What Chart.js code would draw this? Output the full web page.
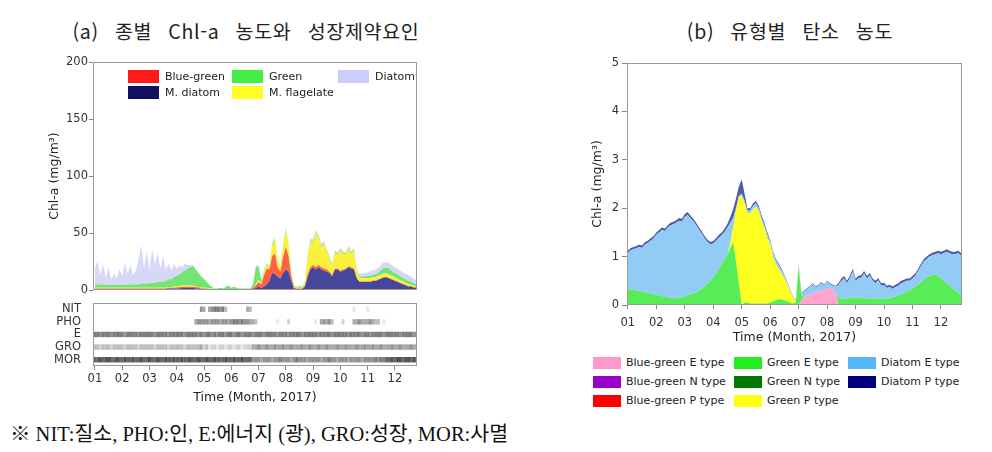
<!DOCTYPE html>
<html lang="ko">
<head>
<meta charset="utf-8">
<title>종별 Chl-a 농도 / 유형별 탄소 농도</title>
<script src="https://cdn.jsdelivr.net/npm/chart.js@4.4.1/dist/chart.umd.min.js"></script>
<style>
  body { margin:0; width:992px; height:452px; background:#fff; position:relative; overflow:hidden;
         font-family:"DejaVu Sans",sans-serif; color:#222; }
  .pane { position:absolute; }
  .pane canvas { display:block; }
  .title { position:absolute; top:16px; font-family:"Noto Sans CJK KR",sans-serif; font-size:19.5px;
           color:#222; white-space:pre; word-spacing:10px; letter-spacing:0.7px; text-align:center; }
  .note { position:absolute; left:10px; top:417px; font-family:"Liberation Serif","Noto Sans CJK KR",serif;
          font-size:20.5px; white-space:pre; color:#111; }
  .legend { position:absolute; display:grid; font-size:11px; color:#222; }
  .legend .item { display:flex; align-items:center; white-space:nowrap; }
  .legend .sw { display:inline-block; }
  #legA { left:128px; top:68px; grid-template-columns:104px 106px auto; grid-auto-rows:16px; }
  #legA .sw { width:31px; height:13px; margin-right:6px; }
  #legB { left:593px; top:353px; grid-template-columns:141px 114px auto; grid-auto-rows:19px; }
  #legB .sw { width:28px; height:12px; margin-right:5px; }
</style>
</head>
<body>
<div class="title" style="left:0;width:492px">(a) 종별 Chl-a 농도와 성장제약요인</div>
<div class="title" style="left:590px;width:400px">(b) 유형별 탄소 농도</div>

<div class="pane" style="left:0;top:40px"><canvas id="chartA" width="430" height="258"></canvas></div>
<div class="pane" style="left:0;top:296px"><canvas id="chartF" width="430" height="112"></canvas></div>
<div class="pane" style="left:580px;top:40px"><canvas id="chartB" width="400" height="305"></canvas></div>
<div class="legend" id="legA"></div>
<div class="legend" id="legB"></div>
<div class="note">※ NIT:질소, PHO:인, E:에너지 (광), GRO:성장, MOR:사멸</div>

<script>
// sampling: every 0.1 month from 01 (Jan) to late Dec
const sampleStart = 1.0, sampleStep = 0.1, sampleCount = 119;
const timeAxis = Array.from({ length: sampleCount }, (_, i) => +(sampleStart + i * sampleStep).toFixed(1));

const monthTicks = [1, 2, 3, 4, 5, 6, 7, 8, 9, 10, 11, 12];
const monthLabels = ["01", "02", "03", "04", "05", "06", "07", "08", "09", "10", "11", "12"];
const chlTicksA = [0, 50, 100, 150, 200];
const chlTicksB = [0, 1, 2, 3, 4, 5];
const factorNames = ["NIT", "PHO", "E", "GRO", "MOR"];

// (a) species Chl-a (mg/m3)
const mDiatom = [
  1,1,1,1,1,1,1,1,1,1, 1,1,1,1,1,1,1,1,1,1, 1,1,1,1,1,1,1,1.5,1.5,1.5,
  1.5,1.5,2,2,2,2,2,1.5,1.5,1, 1,1,.5,.5,.5,.5,.5,.5,.5,.5, .5,.5,.5,.5,.5,.5,.5,.5,1,2,
  3,2,3,5,8,15,14,12,10,15, 18,16,8,1,1,1,1,3,12,18, 20,18,20,18,17,16,15,12,18,18,
  16,17,18,20,19,18,10,7,7,7, 7,7,8,8,9,10,11,11,10,9, 8,7,6,5,4,3,3,2,2];
const blueGreen = [
  .5,.5,.5,.5,.5,.5,.5,.5,.5,.5, .5,.5,.5,.5,.5,.5,.5,.5,.5,.5, .5,.5,.5,.5,.5,.5,.5,.5,.5,.5,
  1,1,1,1,1,1,1,1,1,.5, .5,.5,.5,.5,.5,.5,.5,.5,.5,.5, .5,.5,.5,.5,.5,.5,.5,.5,1,2,
  4,3,10,14,10,15,18,8,6,14, 20,14,4,1,.5,.5,.5,1,2,2, 2,2,2,2,2,2,1,1,1,1,
  1,1,1,1,1,1,1,.5,.5,.5, .5,.5,.5,.5,.5,.5,.5,.5,.5,.5, .5,.5,.5,.5,.5,.5,.5,.5,.5];
const mFlagellate = [
  .5,.5,.5,.5,.5,.5,.5,.5,.5,.5, .5,.5,.5,.5,.5,.5,.5,.5,.5,.5, .5,.5,.5,.5,.5,.5,.5,.5,.5,1,
  1,1,1,1,1,1,1,.5,.5,.5, .5,.5,.5,.5,0,0,0,0,0,0, 0,0,0,0,0,0,0,0,.5,1,
  2,1,4,3,2,10,12,6,4,10, 15,10,3,.5,.5,.5,.5,2,15,22, 20,30,24,18,22,16,12,8,14,12,
  18,14,12,16,12,16,5,3,3,3, 3,3,3,3,3,3,3,3,3,3, 2.5,2.5,2,2,2,1.5,1.5,1,1];
const green = [
  3,3,3,3,2.5,2.5,2.5,2.5,2.5,2.5, 2.5,2.5,2.5,3,3,3,3,3.5,3.5,3.5, 4,4,4.5,5,5,5.5,6,7,7,8,
  9,10,12,13,15,16,17,15,12,10, 8,5,3,1,.5,.5,1,.5,2,3, 1,2,1,.5,.5,.5,.5,.5,3,15,
  12,3,1,1,1,1,1,1,1,1, 1,1,1,1,1,1.5,1,1,1,1, 1,1,1,1,1,1,1,1,1,1,
  1,1,1,1,1,1,1,1.5,1.5,1.5, 2,2,2,2.5,3,4,5,5,5,4, 4,4,3.5,3,3,3,2.5,2.5,2];
const diatom = [
  15,20,8,18,6,16,5,10,6,14, 8,20,10,17,8,12,22,34,14,28, 12,30,16,26,12,22,10,14,8,12,
  6,8,4,6,3,2,1,.5,0,0, 0,0,0,0,0,0,0,0,0,0, 0,0,0,0,0,0,0,0,0,1,
  1,0,0,0,0,1,1,0,0,1, 1,0,0,0,0,0,0,0,1,2, 2,2,2,1,1,1,1,1,1,1,
  1,1,1,1,1,1,1,2,3,3, 3,4,4,4,4,5,5,5,5,5, 5,5,5,5,5,5,4,4,3];

// (a) limiting factor strength, 0 (none) .. 9 (strong)
const limNIT = [
  0,0,0,0,0,0,0,0,0,0, 0,0,0,0,0,0,0,0,0,0, 0,0,0,0,0,0,0,0,0,0,
  0,0,0,0,0,0,0,0,0,5, 4,0,4,5,6,6,5,6,3,0, 0,0,0,0,0,0,4,3,0,0,
  0,0,0,0,0,0,0,0,0,0, 0,0,0,0,0,0,0,0,0,0, 0,0,0,0,0,0,0,0,0,0,
  0,0,0,0,0,1,0,0,0,0, 1,0,0,0,0,0,0,0,0,0, 0,0,0,0,0,0,0,0,0];
const limPHO = [
  0,0,0,0,0,0,0,0,0,0, 0,0,0,0,0,0,0,0,0,0, 0,0,0,0,0,0,0,0,0,0,
  0,0,0,0,0,0,0,4,5,5, 5,5,4,5,5,5,4,5,5,4, 5,6,6,5,6,5,5,4,4,3,
  0,0,0,0,0,0,0,1,0,0, 0,2,0,0,0,0,0,0,0,0, 0,1,0,4,5,4,5,3,0,0,
  0,2,0,0,0,4,4,5,4,4, 4,5,4,3,3,0,1,0,0,0, 0,0,0,0,0,0,0,0,0];
const limE = [
  6,6,5,6,6,6,5,6,6,6, 6,5,6,6,6,6,5,6,6,6, 6,6,5,6,6,6,6,5,6,6,
  6,6,6,5,6,6,6,6,5,6, 5,6,6,5,6,5,6,6,5,6, 6,5,6,6,5,6,6,6,5,6,
  6,6,5,6,6,6,6,5,6,6, 6,5,6,6,6,6,5,6,6,6, 6,6,5,6,6,6,6,5,6,6,
  6,6,6,5,6,6,6,6,5,6, 6,5,6,6,6,6,5,6,6,6, 6,6,5,6,6,6,6,5,6];
const limGRO = [
  3,3,2,3,3,3,2,3,3,3, 3,2,3,3,3,3,2,3,3,3, 3,3,2,3,3,3,3,2,3,3,
  3,3,3,2,3,3,3,3,3,4, 2,3,1,2,2,1,2,2,1,2, 2,1,2,2,1,2,2,2,4,4,
  5,4,4,5,4,4,5,4,4,5, 4,4,5,4,4,4,5,4,4,5, 4,4,5,4,4,5,4,4,4,5,
  4,4,5,4,4,4,5,4,4,5, 4,4,5,4,4,5,4,4,4,5, 4,4,5,4,4,4,5,4,4];
const limMOR = [
  7,7,8,7,8,8,7,7,8,7, 7,8,7,7,8,7,7,8,7,7, 8,7,7,8,7,7,8,7,7,8,
  7,7,8,7,7,8,7,7,8,7, 7,8,7,7,8,7,7,7,8,7, 7,8,7,7,8,7,7,7,5,5,
  5,4,5,5,5,4,5,5,6,5, 5,5,4,5,6,5,5,5,4,5, 5,5,5,4,5,5,6,5,5,4,
  5,5,5,4,5,5,5,5,4,5, 5,5,5,6,5,6,6,7,7,8, 7,8,8,7,8,8,7,8,8];
const factorLevels = [limNIT, limPHO, limE, limGRO, limMOR];

// (b) functional type Chl-a (mg/m3)
const bgE = [
  0,0,0,0,0,0,0,0,0,0, 0,0,0,0,0,0,0,0,0,0, 0,0,0,0,0,0,0,0,0,0,
  0,0,0,0,0,0,0,0,0,0, 0,0,0,0,0,0,0,0,0,0, 0,0,0,0,0,0,0,0,0,0,
  0,.1,.18,.2,.22,.25,.27,.28,.3,.32, .35,.35,.32,.28,0,0,0,0,0,0, 0,0,0,0,0,0,0,0,0,0,
  0,0,0,0,0,0,0,0,0,0, 0,0,0,0,0,0,0,0,0,0, 0,0,0,0,0,0,0,0,0];
const greenE = [
  .32,.32,.31,.3,.29,.28,.27,.25,.24,.22, .21,.2,.18,.17,.16,.15,.14,.14,.15,.16,
  .18,.2,.22,.24,.26,.3,.34,.38,.44,.5, .57,.65,.75,.85,.95,1.05,1.18,1.3,.9,.45,
  0,.05,.05,.03,.03,.03,.03,.03,.03,.03, .05,.08,.1,.12,.12,.1,.08,.05,.03,.05,
  .8,.1,0,0,0,0,0,0,0,0, 0,0,0,0,.15,.14,.13,.13,.14,.15,
  .15,.15,.14,.14,.14,.14,.13,.13,.13,.13, .13,.13,.14,.16,.18,.2,.22,.25,.28,.3,
  .34,.38,.42,.47,.52,.56,.6,.62,.63,.6, .55,.5,.45,.4,.35,.3,.26,.22,.2];
const greenP = [
  0,0,0,0,0,0,0,0,0,0, 0,0,0,0,0,0,0,0,0,0, 0,0,0,0,0,0,0,0,0,0,
  0,0,0,0,0,0,.1,.3,1.05,1.8, 2.25,2.05,1.85,1.87,1.95,2.0,1.9,1.7,1.55,1.35,
  1.2,.92,.75,.63,.53,.45,.35,.23,.12,.03, 0,0,0,0,0,0,0,0,0,0,
  0,0,0,0,0,0,0,0,0,0, 0,0,0,0,0,0,0,0,0,0, 0,0,0,0,0,0,0,0,0,0,
  0,0,0,0,0,0,0,0,0,0, 0,0,0,0,0,0,0,0,0];
const diatomE = [
  .75,.81,.84,.87,.91,.9,.98,1.03,1.09,1.15, 1.24,1.3,1.37,1.36,1.44,1.5,1.53,1.56,1.59,1.56,
  1.64,1.66,1.57,1.49,1.39,1.25,1.13,.99,.86,.75, .7,.68,.64,.59,.56,.55,.42,.2,.05,0,
  .05,.05,.05,.05,.07,.07,.07,.07,.07,.07, .07,.07,.07,.07,.07,.05,.03,.02,.02,.01,
  .03,.03,.1,.13,.16,.18,.09,.12,.16,.08, .13,.08,.08,.1,.26,.36,.42,.32,.41,.54,
  .35,.4,.43,.51,.41,.47,.37,.32,.38,.27, .28,.22,.23,.17,.19,.2,.23,.22,.22,.2,
  .21,.22,.28,.33,.38,.39,.4,.41,.42,.47, .5,.57,.65,.67,.7,.75,.81,.81,.85];
const diatomP = [
  .05,.05,.05,.05,.05,.05,.05,.05,.05,.05, .05,.05,.05,.05,.05,.05,.05,.05,.06,.06,
  .06,.06,.06,.05,.05,.05,.05,.05,.05,.05, .05,.05,.06,.06,.07,.08,.12,.18,.2,.2,
  .3,.15,.05,.05,.05,.05,.05,.05,.05,.05, .03,.03,.03,.03,.03,.02,.02,.02,.01,.01,
  .02,.02,.02,.02,.02,.02,.02,.02,.02,.02, .02,.02,.02,.02,.04,.05,.05,.05,.05,.06,
  .05,.05,.05,.05,.05,.05,.05,.05,.05,.05, .05,.05,.05,.05,.05,.05,.05,.05,.05,.05,
  .05,.05,.05,.05,.05,.05,.05,.05,.05,.05, .05,.05,.05,.05,.05,.05,.05,.05,.05];

Chart.defaults.font.family = "'DejaVu Sans', sans-serif";
Chart.defaults.font.size = 11;
Chart.defaults.color = "#222";

// box around the plotting area
const framePlugin = {
  id: "frame",
  afterDraw(chart) {
    const a = chart.chartArea, ctx = chart.ctx;
    ctx.save();
    ctx.strokeStyle = "#9a9a9a";
    ctx.lineWidth = 1;
    ctx.strokeRect(Math.round(a.left) + 0.5, Math.round(a.top) + 0.5,
                   Math.round(a.right - a.left) - 1, Math.round(a.bottom - a.top) - 1);
    ctx.restore();
  }
};

function setTicks(values) {
  return scale => { scale.ticks = values.map(v => ({ value: v })); };
}

function stackedArea(list) {
  return list.map((s, i) => ({
    label: s.label,
    data: s.data,
    backgroundColor: s.area,
    legendColor: s.swatch,
    borderWidth: 0,
    pointRadius: 0,
    tension: 0,
    fill: i === 0 ? "origin" : "-1"
  }));
}

function buildLegend(id, chart, order) {
  const box = document.getElementById(id);
  order.forEach(name => {
    const ds = chart.data.datasets.find(d => d.label === name);
    const item = document.createElement("div");
    item.className = "item";
    item.innerHTML = `<span class="sw" style="background:${ds.legendColor}"></span><span>${ds.label}</span>`;
    box.appendChild(item);
  });
}

// (a) top: stacked Chl-a by species
const chartA = new Chart(document.getElementById("chartA"), {
  type: "line",
  data: {
    labels: timeAxis,
    datasets: stackedArea([
      { label: "M. diatom",    data: mDiatom,     area: "rgba(50,50,145,0.9)",  swatch: "#10105e" },
      { label: "Blue-green",   data: blueGreen,   area: "rgba(255,70,30,0.85)", swatch: "#ff1a1a" },
      { label: "M. flagelate", data: mFlagellate, area: "rgba(250,240,40,0.9)", swatch: "#ffff22" },
      { label: "Green",        data: green,       area: "rgba(90,225,90,0.85)", swatch: "#44ee44" },
      { label: "Diatom",       data: diatom,      area: "rgba(205,205,245,0.8)", swatch: "#ccccff" }
    ])
  },
  options: {
    responsive: false,
    animation: false,
    layout: { padding: { top: 22, right: 13, bottom: 4, left: 0 } },
    plugins: { legend: { display: false }, tooltip: { enabled: false } },
    scales: {
      x: { type: "linear", min: 0.93, max: 12.81, display: false },
      y: {
        stacked: true, min: 0, max: 200,
        afterFit: s => { s.width = 93; },
        afterBuildTicks: setTicks(chlTicksA),
        ticks: { padding: 1, font: { size: 11.5 }, color: "#333" },
        grid: { drawOnChartArea: false, tickLength: 4, color: "#888" },
        border: { display: false },
        title: { display: true, text: "Chl-a (mg/m³)", font: { size: 12.5 }, padding: { top: 47, bottom: 0 } }
      }
    }
  },
  plugins: [framePlugin]
});
buildLegend("legA", chartA, ["Blue-green", "Green", "Diatom", "M. diatom", "M. flagelate"]);

// (a) bottom: limiting factors
function shade(level) {
  const g = Math.round(255 - level * 22);
  return `rgb(${g},${g},${g})`;
}
new Chart(document.getElementById("chartF"), {
  type: "scatter",
  data: {
    datasets: factorNames.map((name, r) => ({
      label: name,
      data: factorLevels[r].map((lv, i) => ({ x: timeAxis[i], y: r, lv })).filter(p => p.lv > 0),
      pointStyle: "line",
      rotation: 90,
      pointRadius: 2.7,
      pointBorderWidth: 2.9,
      pointBorderColor: ctx => shade(ctx.raw ? ctx.raw.lv : 0)
    }))
  },
  options: {
    responsive: false,
    animation: false,
    layout: { padding: { top: 4, right: 13, bottom: 0, left: 0 } },
    plugins: { legend: { display: false }, tooltip: { enabled: false } },
    scales: {
      x: {
        type: "linear", min: 0.93, max: 12.81,
        afterFit: s => { s.height = 42; s.paddingLeft = 0; s.paddingRight = 0; },
        afterBuildTicks: setTicks(monthTicks),
        ticks: { callback: (v, i) => monthLabels[i], padding: 2, font: { size: 11.5 }, color: "#333", maxRotation: 0, autoSkip: false },
        grid: { drawOnChartArea: false, tickLength: 4, color: "#888" },
        border: { display: false },
        title: { display: true, text: "Time (Month, 2017)", font: { size: 12.5 }, padding: { top: 0, bottom: 3 } }
      },
      y: {
        type: "linear", min: -0.5, max: 4.5, reverse: true,
        afterFit: s => { s.width = 93; s.paddingTop = 0; s.paddingBottom = 0; },
        afterBuildTicks: setTicks(factorNames.map((_, i) => i)),
        ticks: { callback: (v, i) => factorNames[i], padding: 4, font: { size: 11.5 }, color: "#333", autoSkip: false },
        grid: { display: false },
        border: { display: false }
      }
    }
  },
  plugins: [framePlugin]
});

// (b) stacked Chl-a by functional type
const chartB = new Chart(document.getElementById("chartB"), {
  type: "line",
  data: {
    labels: timeAxis,
    datasets: stackedArea([
      { label: "Blue-green E type", data: bgE,     area: "rgba(255,160,205,0.95)", swatch: "#ff99cc" },
      { label: "Green E type",      data: greenE,  area: "rgba(80,235,80,0.95)",   swatch: "#22ee22" },
      { label: "Green P type",      data: greenP,  area: "rgba(255,255,20,0.95)",  swatch: "#ffff11" },
      { label: "Diatom E type",     data: diatomE, area: "rgba(140,200,245,0.95)", swatch: "#55b8f5" },
      { label: "Diatom P type",     data: diatomP, area: "rgba(40,50,150,0.8)",    swatch: "#000080" },
      { label: "Blue-green N type", data: [],      area: "rgba(150,0,200,0.9)",    swatch: "#9900cc" },
      { label: "Green N type",      data: [],      area: "rgba(0,120,0,0.9)",      swatch: "#007700" },
      { label: "Blue-green P type", data: [],      area: "rgba(255,0,0,0.9)",      swatch: "#ff0000" }
    ])
  },
  options: {
    responsive: false,
    animation: false,
    layout: { padding: { top: 23, right: 18, bottom: 0, left: 0 } },
    plugins: { legend: { display: false }, tooltip: { enabled: false } },
    scales: {
      x: {
        type: "linear", min: 0.97, max: 12.74,
        afterFit: s => { s.height = 40; },
        afterBuildTicks: setTicks(monthTicks),
        ticks: { callback: (v, i) => monthLabels[i], padding: 7, font: { size: 11.5 }, color: "#333", maxRotation: 0, autoSkip: false },
        grid: { drawOnChartArea: false, tickLength: 4, color: "#888" },
        border: { display: false },
        title: { display: true, text: "Time (Month, 2017)", font: { size: 12.5 }, padding: { top: 0, bottom: 0 } }
      },
      y: {
        stacked: true, min: 0, max: 5,
        afterFit: s => { s.width = 47; },
        afterBuildTicks: setTicks(chlTicksB),
        ticks: { padding: 3, font: { size: 11.5 }, color: "#333" },
        grid: { drawOnChartArea: false, tickLength: 5, color: "#888" },
        border: { display: false },
        title: { display: true, text: "Chl-a (mg/m³)", font: { size: 12.5 }, padding: { top: 10, bottom: 0 } }
      }
    }
  },
  plugins: [framePlugin]
});
buildLegend("legB", chartB, [
  "Blue-green E type", "Green E type", "Diatom E type",
  "Blue-green N type", "Green N type", "Diatom P type",
  "Blue-green P type", "Green P type"
]);
</script>
</body>
</html>
